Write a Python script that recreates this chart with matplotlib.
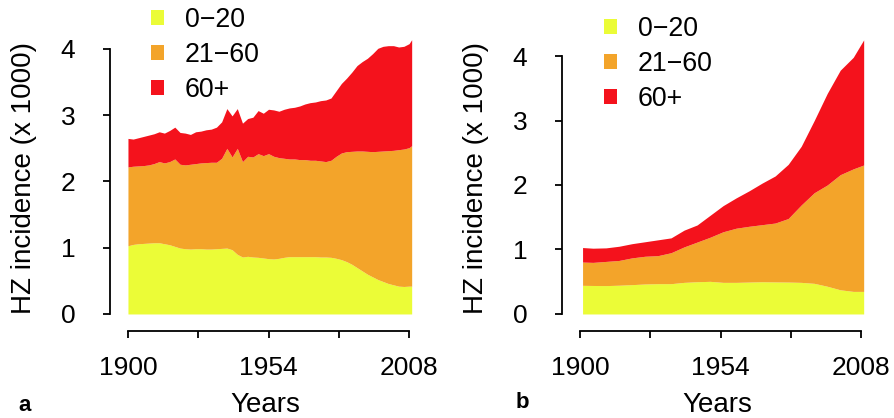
import matplotlib
matplotlib.use("Agg")
import matplotlib.pyplot as plt
from matplotlib.patches import Patch

plt.rcParams['font.family'] = ['Liberation Sans', 'DejaVu Sans']

# panel a: upper edges of the stacked layers (x 1000 cases)
years_a = list(range(1900, 2009, 2)) + [2009]
a_top_0_20 = [1.03, 1.05, 1.06, 1.065, 1.07, 1.075, 1.075, 1.06, 1.045, 1.02,
              0.995, 0.985, 0.98, 0.985, 0.985, 0.98, 0.98, 0.985, 0.99, 0.995,
              0.97, 0.90, 0.86, 0.87, 0.86, 0.855, 0.845, 0.835, 0.83, 0.84,
              0.855, 0.865, 0.865, 0.865, 0.865, 0.865, 0.865, 0.86, 0.86, 0.855,
              0.84, 0.82, 0.79, 0.75, 0.70, 0.65, 0.60, 0.56, 0.52, 0.49,
              0.46, 0.44, 0.42, 0.415, 0.42, 0.42]
a_top_21_60 = [2.22, 2.23, 2.235, 2.24, 2.25, 2.27, 2.30, 2.28, 2.30, 2.34,
               2.26, 2.25, 2.26, 2.27, 2.28, 2.285, 2.29, 2.29, 2.35, 2.50,
               2.37, 2.50, 2.30, 2.38, 2.37, 2.42, 2.39, 2.42, 2.38, 2.36,
               2.35, 2.34, 2.34, 2.33, 2.33, 2.32, 2.32, 2.31, 2.30, 2.32,
               2.38, 2.43, 2.45, 2.455, 2.46, 2.46, 2.455, 2.45, 2.455, 2.46,
               2.465, 2.47, 2.48, 2.49, 2.51, 2.54]
a_total = [2.65, 2.64, 2.66, 2.68, 2.70, 2.72, 2.75, 2.73, 2.77, 2.82,
           2.74, 2.73, 2.71, 2.75, 2.76, 2.78, 2.79, 2.82, 2.90, 3.10,
           2.99, 3.10, 2.88, 2.95, 2.97, 3.07, 3.03, 3.09, 3.08, 3.06,
           3.09, 3.11, 3.12, 3.14, 3.17, 3.19, 3.20, 3.22, 3.23, 3.26,
           3.37, 3.48, 3.56, 3.65, 3.75, 3.81, 3.86, 3.93, 4.01, 4.04,
           4.05, 4.05, 4.03, 4.04, 4.08, 4.14]

# panel b
years_b = [1901] + list(range(1905, 2006, 5)) + [2009]
b_top_0_20 = [0.444, 0.442, 0.44, 0.446, 0.455, 0.465, 0.47, 0.47, 0.49, 0.50,
              0.506, 0.49, 0.49, 0.495, 0.50, 0.497, 0.495, 0.49, 0.475, 0.43,
              0.375, 0.35, 0.35]
b_top_21_60 = [0.805, 0.80, 0.815, 0.83, 0.87, 0.895, 0.905, 0.95, 1.04, 1.115,
               1.19, 1.275, 1.33, 1.36, 1.385, 1.41, 1.48, 1.69, 1.88, 2.00,
               2.16, 2.25, 2.31]
b_total = [1.03, 1.02, 1.025, 1.05, 1.09, 1.12, 1.15, 1.18, 1.30, 1.38,
           1.53, 1.68, 1.80, 1.91, 2.03, 2.14, 2.32, 2.60, 3.00, 3.42,
           3.78, 3.98, 4.25]

groups = ['0\u221220', '21\u221260', '60+']
colors = ['#ebfc37', '#f3a42a', '#f4121c']
x_ticks = [1900, 1927, 1954, 1981, 2008]
x_labels = ['1900', '', '1954', '', '2008']

fig = plt.figure(figsize=(8.95, 4.18), dpi=100)
W, H = 895, 418


def panel(left_px, years, tops, ylim, letter, letter_xy, leg_xy):
    ax = fig.add_axes([left_px / W, (H - 331) / H, 310 / W, 296 / H])
    lower = [0] * len(years)
    for top, c in zip(tops, colors):
        ax.fill_between(years, lower, top, color=c, linewidth=0)
        lower = top
    ax.set_xlim(1893.1, 2012.2)
    ax.set_ylim(*ylim)
    for s in ['top', 'right']:
        ax.spines[s].set_visible(False)
    ax.spines['left'].set_bounds(0, 4)
    ax.spines['bottom'].set_bounds(1900, 2008)
    for s in ['left', 'bottom']:
        ax.spines[s].set_linewidth(1.3)
    ax.set_yticks([0, 1, 2, 3, 4])
    ax.set_xticks(x_ticks)
    ax.set_xticklabels(x_labels)
    ax.tick_params(axis='y', length=5, width=1.3, pad=20, labelsize=19)
    ax.tick_params(axis='x', length=5, width=1.3, pad=13, labelsize=19)
    ax.set_ylabel('HZ incidence (x 1000)', fontsize=20)
    ax.yaxis.set_label_coords(-0.235, 0.517)
    ax.set_xlabel('Years', fontsize=20)
    ax.xaxis.set_label_coords(0.5, -0.205)
    handles = [Patch(facecolor=c, edgecolor='none') for c in colors]
    ax.legend(handles, groups, loc='upper left', bbox_to_anchor=(leg_xy[0] / W, 1 - leg_xy[1] / H),
              bbox_transform=fig.transFigure, frameon=False, fontsize=19.3,
              handlelength=0.5, handleheight=0.5, handletextpad=0.75,
              labelspacing=0.33, borderpad=0, borderaxespad=0)
    fig.text(letter_xy[0] / W, 1 - letter_xy[1] / H, letter, fontsize=16,
             fontweight='bold', ha='left', va='baseline')
    return ax


panel(110, years_a, [a_top_0_20, a_top_21_60, a_total], (-0.257, 4.211), 'a', (18, 411), (151, 7))
panel(562, years_b, [b_top_0_20, b_top_21_60, b_total], (-0.264, 4.326), 'b', (516, 408), (604, 16))

fig.savefig('out.png', dpi=100)
